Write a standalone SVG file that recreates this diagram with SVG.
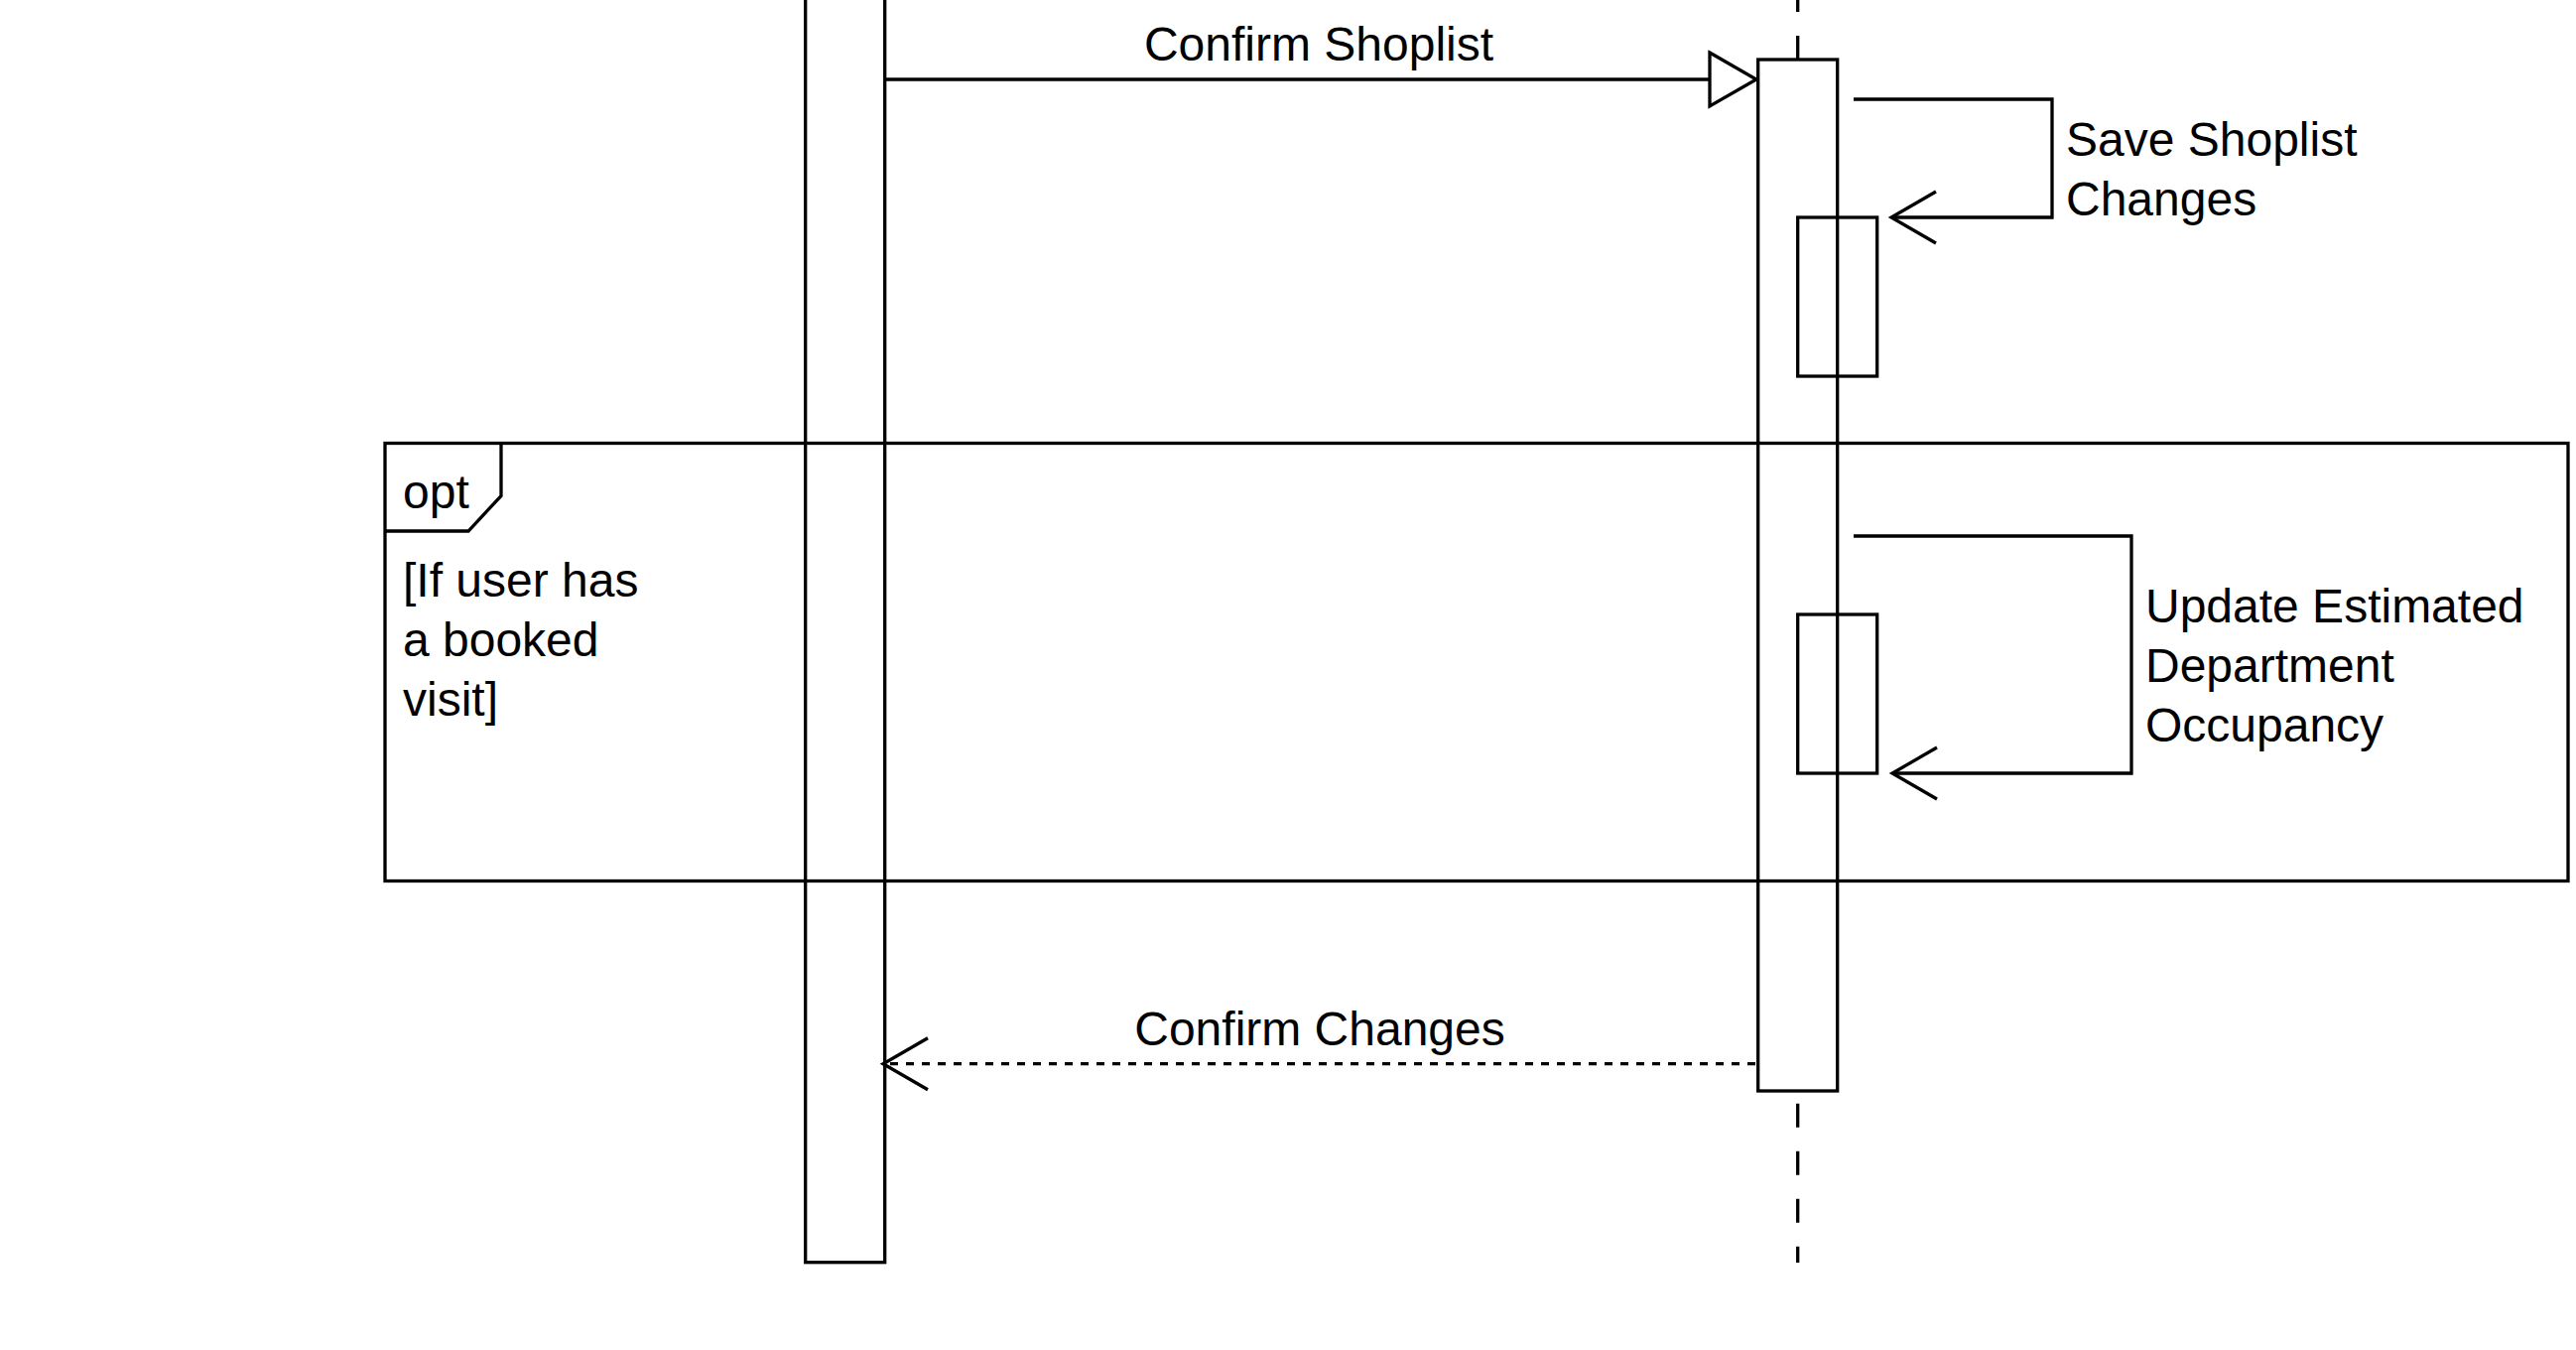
<svg xmlns="http://www.w3.org/2000/svg" width="2596" height="1360" viewBox="0 0 2596 1360">
<style>
.s{fill:none;stroke:#000;stroke-width:3.3}
.t{font-family:"Liberation Sans",Arial,sans-serif;font-size:48px;fill:#000}
.life{fill:none;stroke:#000;stroke-width:3.3;stroke-dasharray:24 24}
.ret{fill:none;stroke:#000;stroke-width:3.3;stroke-dasharray:8 8}
</style>
<defs>
<marker id="open" markerUnits="userSpaceOnUse" viewBox="-50 -30 60 60" markerWidth="60" markerHeight="60" refX="0" refY="0" orient="auto" overflow="visible">
<path d="M-45,-26 L0,0 L-45,26" fill="none" stroke="#000" stroke-width="3.3"/>
</marker>
<marker id="block" markerUnits="userSpaceOnUse" viewBox="-50 -30 60 60" markerWidth="60" markerHeight="60" refX="0" refY="0" orient="auto" overflow="visible">
<path d="M-47,-27 L0,0 L-47,27 Z" fill="#fff" stroke="#000" stroke-width="3.3"/>
</marker>
</defs>
<rect width="2596" height="1360" fill="#fff"/>
<g id="frame-opt">
<rect class="s" x="388" y="446.5" width="2200" height="441"/>
<path class="s" d="M388,535 L472,535 L505,499.5 L505,446.5"/>
<text class="t" x="406" y="512">opt</text>
<text class="t"><tspan x="406" y="601">[If user has</tspan><tspan x="406" y="661">a booked</tspan><tspan x="406" y="721">visit]</tspan></text>
</g>
<g id="left-activation">
<rect class="s" x="811.7" y="-10" width="80" height="1281.7"/>
</g>
<g id="right-lifeline">
<line class="life" x1="1811.7" y1="-12" x2="1811.7" y2="60"/>
<line class="life" x1="1811.7" y1="1111.7" x2="1811.7" y2="1272"/>
</g>
<g id="right-activation">
<rect class="s" x="1771.7" y="60" width="80" height="1039"/>
</g>
<g id="nested-activation-1">
<rect class="s" x="1811.7" y="219" width="80" height="160"/>
</g>
<g id="nested-activation-2">
<rect class="s" x="1811.7" y="619" width="80" height="160"/>
</g>
<g id="connectors">
<line class="s" x1="891.7" y1="80" x2="1770" y2="80" marker-end="url(#block)"/>
<text class="t" x="1329" y="61" text-anchor="middle">Confirm Shoplist</text>
<path class="s" d="M1868,100 L2068,100 L2068,219 L1906,219" marker-end="url(#open)"/>
<text class="t"><tspan x="2082" y="157">Save Shoplist</tspan><tspan x="2082" y="217">Changes</tspan></text>
<path class="s" d="M1868,540 L2148,540 L2148,779 L1907,779" marker-end="url(#open)"/>
<text class="t"><tspan x="2162" y="627">Update Estimated</tspan><tspan x="2162" y="687">Department</tspan><tspan x="2162" y="747">Occupancy</tspan></text>
<line class="ret" x1="1769" y1="1071.7" x2="890" y2="1071.7" marker-end="url(#open)"/>
<text class="t" x="1330" y="1053" text-anchor="middle">Confirm Changes</text>
</g>
</svg>
